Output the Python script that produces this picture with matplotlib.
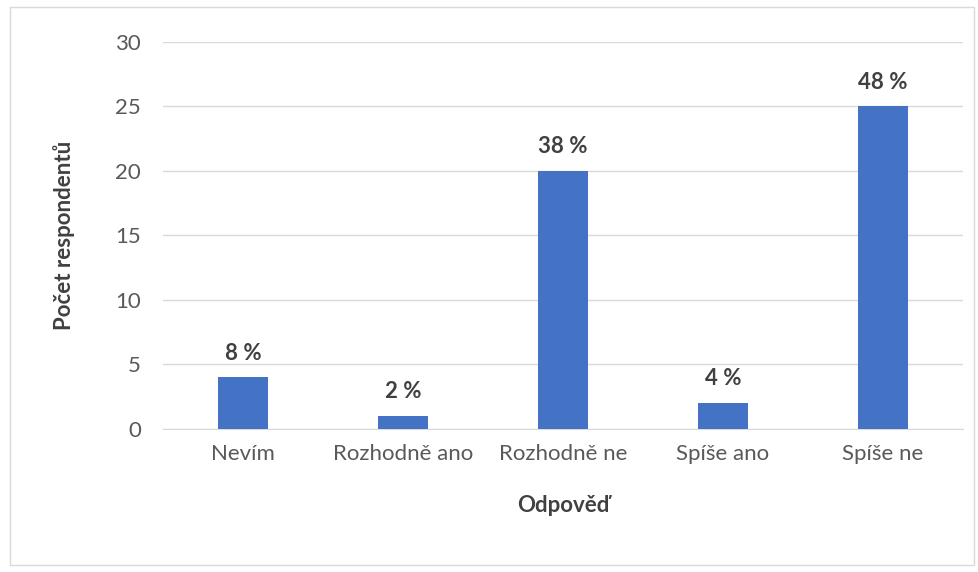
import matplotlib

matplotlib.use("Agg")
import matplotlib.pyplot as plt
from matplotlib.patches import Rectangle

categories = ["Nevím", "Rozhodně ano", "Rozhodně ne", "Spíše ano", "Spíše ne"]
counts = [4, 1, 20, 2, 25]
pct_labels = ["8 %", "2 %", "38 %", "4 %", "48 %"]

plt.rcParams["font.family"] = ["Lato", "DejaVu Sans"]

fig = plt.figure(figsize=(9.79, 5.72), dpi=100)
ax = fig.add_axes([0.1665, 0.25, 0.817, 0.6766])

x = range(len(categories))
ax.bar(x, counts, width=0.31, color="#4472C4", zorder=3)

for xi, v, lab in zip(x, counts, pct_labels):
    ax.annotate(lab, (xi, v), xytext=(0, 10), textcoords="offset points",
                ha="center", va="bottom", fontsize=16, fontweight="bold",
                color="#404040")

ax.set_xlim(-0.5, len(categories) - 0.5)
ax.set_ylim(0, 30)
ax.set_yticks(range(0, 31, 5))
ax.set_xticks(list(x))
ax.set_xticklabels(categories)
ax.tick_params(axis="both", length=0, labelsize=16, labelcolor="#595959")
ax.tick_params(axis="x", pad=11)
ax.tick_params(axis="y", pad=16)
ax.grid(axis="y", color="#D9D9D9", linewidth=1, zorder=0)
for side in ["top", "right", "left"]:
    ax.spines[side].set_visible(False)
ax.spines["bottom"].set_color("#D9D9D9")

ax.set_ylabel("Počet respondentů", fontsize=16, fontweight="bold",
              color="#404040", labelpad=29)
ax.set_xlabel("Odpověď", fontsize=16, fontweight="bold",
              color="#404040", labelpad=22)

fig.patches.append(Rectangle((0.01, 0.012), 0.985, 0.975, transform=fig.transFigure,
                             fill=False, edgecolor="#D9D9D9", linewidth=1))

fig.savefig("out.png", dpi=100)
